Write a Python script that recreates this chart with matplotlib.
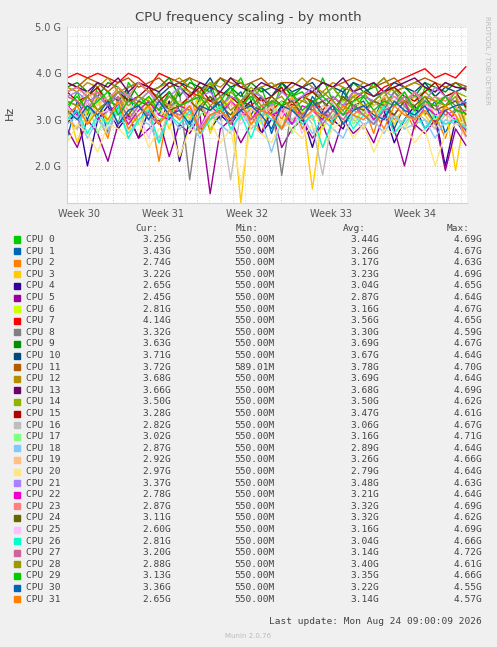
import numpy as np
import matplotlib
matplotlib.use("Agg")
import matplotlib.pyplot as plt

cpus = [f"CPU {i}" for i in range(32)]
colors = ["#00CC00","#0066B3","#FF8000","#FFCC00","#330099","#990099","#CCFF00","#FF0000",
          "#808080","#008F00","#00487D","#B35A00","#B38F00","#6B006B","#8FB300","#B30000",
          "#BEBEBE","#80FF80","#80C9FF","#FFC080","#FFE680","#AA80FF","#EE00CC","#FF8080",
          "#666600","#FFBFFF","#00FFCC","#CC6699","#999900","#00CC00","#0066B3","#FF8000"]
cur = ["3.25G","3.43G","2.74G","3.22G","2.65G","2.45G","2.81G","4.14G","3.32G","3.63G","3.71G","3.72G",
       "3.68G","3.66G","3.50G","3.28G","2.82G","3.02G","2.87G","2.92G","2.97G","3.37G","2.78G","2.87G",
       "3.11G","2.60G","2.81G","3.20G","2.88G","3.13G","3.36G","2.65G"]
mins = ["550.00M"]*11 + ["589.01M"] + ["550.00M"]*20
avg = ["3.44G","3.26G","3.17G","3.23G","3.04G","2.87G","3.16G","3.56G","3.30G","3.69G","3.67G","3.78G",
       "3.69G","3.68G","3.50G","3.47G","3.06G","3.16G","2.89G","3.26G","2.79G","3.48G","3.21G","3.32G",
       "3.32G","3.16G","3.04G","3.14G","3.40G","3.35G","3.22G","3.14G"]
maxs = ["4.69G","4.67G","4.63G","4.69G","4.65G","4.64G","4.67G","4.65G","4.59G","4.67G","4.64G","4.70G",
        "4.64G","4.69G","4.62G","4.61G","4.67G","4.71G","4.64G","4.66G","4.64G","4.63G","4.64G","4.69G",
        "4.62G","4.69G","4.66G","4.72G","4.61G","4.66G","4.55G","4.57G"]

# sampled values (GHz), 40 points per CPU across the month
series = [
 [3.2,3.6,3.1,3.7,3.4,2.9,3.8,3.5,3.3,3.6,3.0,3.7,3.9,3.5,3.8,3.2,3.6,3.9,3.4,3.7,3.1,3.8,3.5,3.6,3.3,3.9,3.4,3.7,3.2,3.5,3.8,3.3,3.6,3.4,3.0,3.7,3.5,3.3,3.6,3.25],
 [2.6,3.4,3.0,3.5,2.7,3.3,3.6,2.9,3.4,3.1,3.6,3.2,2.8,3.5,3.7,3.0,3.4,3.6,3.1,3.5,2.7,3.3,3.6,3.0,3.5,3.2,2.9,3.6,3.3,3.4,3.0,3.5,2.8,3.3,3.6,3.1,3.4,2.7,3.2,3.43],
 [3.0,2.8,3.4,3.1,2.6,3.5,3.2,2.9,3.3,2.1,3.4,3.0,3.6,2.8,3.2,3.5,2.9,3.3,3.1,2.7,3.4,3.0,3.5,2.8,3.2,3.0,3.4,2.9,3.1,3.3,2.7,3.5,3.0,3.2,2.8,3.4,3.1,2.6,3.3,2.74],
 [3.3,2.5,3.2,3.5,2.9,3.4,3.1,2.6,3.5,3.3,2.8,3.4,3.0,3.6,2.7,3.2,3.5,1.2,3.3,3.0,3.4,2.8,3.5,3.2,1.5,3.1,3.4,2.9,3.6,3.2,3.0,3.4,2.9,3.3,3.5,3.1,2.8,3.3,1.9,3.22],
 [2.9,3.2,2.0,3.0,3.3,2.8,3.1,2.6,3.2,2.9,3.4,2.1,3.0,3.3,2.8,3.1,2.9,3.2,3.4,2.7,3.0,3.3,2.9,3.1,2.4,3.2,3.0,2.8,3.3,3.1,2.9,3.2,2.5,3.0,3.3,2.8,3.1,2.0,3.0,2.65],
 [2.8,2.4,3.0,2.7,2.1,2.9,3.1,2.6,2.8,3.0,2.2,2.9,2.7,3.1,1.4,2.8,3.0,2.5,2.9,2.7,3.2,2.4,2.8,3.0,2.6,2.9,2.3,3.0,2.7,2.9,2.5,3.1,2.8,2.0,2.9,2.7,3.0,1.9,2.8,2.45],
 [3.1,3.3,2.9,3.4,3.0,3.2,2.7,3.4,3.1,2.9,3.3,3.2,3.0,3.4,2.8,3.2,3.5,3.0,3.3,2.9,3.2,3.4,3.0,3.1,3.3,2.8,3.2,3.4,3.0,3.2,2.9,3.3,3.1,3.4,2.9,3.2,3.0,3.3,3.1,2.81],
 [3.9,4.0,3.9,4.0,3.9,3.8,4.0,3.9,3.7,4.0,3.9,3.8,3.6,3.5,3.4,3.3,3.5,3.4,3.3,3.5,3.2,3.4,3.3,3.5,3.4,3.2,3.5,3.3,3.4,3.6,3.5,3.7,3.8,3.9,4.0,4.1,3.9,4.0,3.9,4.14],
 [3.3,3.0,3.5,3.2,3.4,2.9,3.5,3.3,3.1,3.4,3.2,3.6,1.7,3.3,3.5,3.1,3.4,3.2,3.6,3.0,3.4,1.8,3.3,3.5,3.2,3.4,3.0,3.5,3.3,3.1,3.4,3.2,3.6,3.3,3.0,3.4,3.2,3.5,3.3,3.32],
 [3.7,3.8,3.6,3.5,3.8,3.7,3.4,3.8,3.6,3.7,3.9,3.5,3.8,3.7,3.6,3.9,3.7,3.5,3.8,3.6,3.7,3.8,3.5,3.7,3.6,3.8,3.7,3.4,3.8,3.6,3.7,3.9,3.6,3.7,3.5,3.8,3.7,3.6,3.8,3.63],
 [3.6,3.7,3.5,3.8,3.6,3.4,3.7,3.8,3.6,3.5,3.7,3.8,3.7,3.6,3.9,3.5,3.7,3.8,3.6,3.7,3.5,3.8,3.6,3.7,3.8,3.5,3.7,3.6,3.8,3.7,3.5,3.6,3.8,3.7,3.6,3.8,3.5,3.7,3.6,3.71],
 [3.8,3.7,3.9,3.8,3.6,3.8,3.9,3.7,3.8,3.9,3.7,3.8,3.9,3.8,3.7,3.9,3.8,3.7,3.8,3.9,3.7,3.8,3.8,3.7,3.9,3.8,3.7,3.8,3.9,3.8,3.7,3.8,3.9,3.7,3.8,3.9,3.8,3.7,3.8,3.72],
 [3.7,3.6,3.8,3.7,3.9,3.6,3.7,3.8,3.6,3.7,3.8,3.9,3.7,3.6,3.8,3.7,3.9,3.8,3.6,3.7,3.8,3.6,3.7,3.9,3.7,3.6,3.8,3.7,3.6,3.8,3.7,3.9,3.6,3.7,3.8,3.7,3.6,3.8,3.7,3.68],
 [3.8,3.7,3.6,3.8,3.7,3.9,3.6,3.8,3.7,3.6,3.8,3.7,3.5,3.8,3.7,3.6,3.9,3.7,3.6,3.8,3.7,3.6,3.8,3.7,3.6,3.8,3.7,3.9,3.6,3.7,3.8,3.6,3.7,3.8,3.9,3.7,3.6,3.8,3.7,3.66],
 [3.5,3.4,3.6,3.5,3.3,3.7,3.5,3.4,3.6,3.5,3.3,3.7,3.6,3.4,3.8,3.5,3.6,3.4,3.7,3.5,3.3,3.6,3.5,3.4,3.6,3.5,3.7,3.4,3.5,3.6,3.3,3.5,3.7,3.4,3.5,3.6,3.4,3.5,3.6,3.50],
 [3.6,3.4,3.5,3.7,3.3,3.6,3.4,3.5,3.7,3.4,3.6,3.3,3.5,3.7,3.4,3.6,3.5,3.3,3.6,3.4,3.5,3.7,3.3,3.5,3.6,3.4,3.5,3.3,3.6,3.5,3.4,3.6,3.7,3.5,3.4,3.6,3.8,3.5,3.6,3.28],
 [3.1,2.8,3.3,3.0,2.7,3.2,2.9,3.3,3.0,2.6,3.2,3.1,2.9,3.3,3.0,3.1,1.7,3.2,2.9,3.1,3.3,2.8,3.0,3.2,2.9,1.8,3.1,3.3,3.0,2.8,3.2,3.0,3.1,2.9,3.2,3.0,2.8,3.1,3.0,2.82],
 [3.2,3.0,3.4,2.7,3.2,3.1,3.4,2.9,3.3,3.0,3.2,3.4,2.8,3.1,3.3,3.2,2.9,3.4,3.0,3.2,3.1,3.4,2.7,3.2,3.3,3.0,3.1,3.4,2.9,3.2,3.0,3.3,3.1,2.8,3.2,3.4,3.0,3.1,3.2,3.02],
 [2.9,3.1,2.6,3.0,2.8,3.2,2.7,3.0,2.9,2.5,3.1,2.8,3.0,2.6,3.1,2.9,2.7,3.2,2.8,3.0,2.3,3.0,2.9,3.1,2.7,3.0,2.8,2.6,3.1,2.9,3.0,2.7,3.1,2.8,2.9,3.0,2.6,3.0,2.9,2.87],
 [3.5,3.4,3.6,3.3,3.5,3.6,3.2,3.4,3.3,3.1,3.2,3.4,3.0,3.3,3.2,3.1,3.4,3.2,3.3,3.0,3.3,3.1,3.4,3.2,3.0,3.3,3.2,3.1,3.4,3.2,3.3,3.5,3.4,3.6,3.3,3.5,3.4,3.2,3.3,2.92],
 [2.5,2.9,2.7,2.3,2.9,2.8,2.6,3.0,2.4,2.8,2.9,2.2,2.8,2.7,3.0,2.5,2.8,1.6,2.9,2.7,2.5,3.0,2.8,2.6,2.9,2.4,2.8,3.0,2.6,2.9,2.3,2.8,2.7,2.9,2.5,2.8,2.0,2.7,2.9,2.97],
 [3.5,3.6,3.4,3.5,3.3,3.6,3.5,3.4,3.6,3.3,3.5,3.7,3.4,3.5,3.6,3.3,3.5,3.4,3.6,3.5,3.3,3.6,3.4,3.5,3.7,3.4,3.5,3.3,3.6,3.5,3.4,3.6,3.5,3.3,3.6,3.4,3.7,3.5,3.4,3.37],
 [3.3,3.1,3.4,3.0,3.2,3.3,2.9,3.2,3.4,3.1,3.0,3.3,3.2,2.8,3.3,3.1,3.4,3.2,3.0,3.3,3.1,3.2,2.9,3.3,3.2,3.0,3.4,3.1,3.2,3.3,3.0,3.2,3.1,3.4,2.9,3.3,3.1,3.2,3.0,2.78],
 [3.6,3.7,3.5,3.6,3.4,3.7,3.5,3.8,3.6,3.4,3.3,3.2,3.1,3.3,3.0,3.2,3.4,3.1,3.2,3.3,3.0,3.2,3.4,3.1,3.3,3.2,3.0,3.3,3.2,3.1,3.4,3.3,3.5,3.4,3.6,3.3,3.5,3.4,3.6,2.87],
 [3.4,3.3,3.5,3.2,3.4,3.3,3.1,3.4,3.3,3.5,3.2,3.3,3.4,3.2,3.5,3.3,3.1,3.4,3.3,3.2,3.5,3.3,3.4,3.1,3.3,3.4,3.2,3.5,3.3,3.2,3.4,3.3,3.1,3.4,3.3,3.5,3.2,3.3,3.4,3.11],
 [3.3,3.0,3.4,3.1,3.2,2.9,3.4,3.1,2.6,3.3,3.2,3.0,3.4,2.8,3.2,3.1,3.3,2.9,3.2,3.4,3.0,3.1,3.3,2.7,3.2,3.1,3.4,3.0,3.2,3.3,2.9,3.2,3.4,3.1,3.0,3.3,3.2,2.9,3.1,2.60],
 [3.0,3.2,2.7,3.1,2.9,3.3,2.6,3.0,3.2,2.5,3.1,2.9,3.2,2.7,3.0,3.3,2.8,3.1,2.6,3.2,3.0,2.8,3.3,2.9,3.1,2.4,3.0,3.2,2.8,3.1,2.9,3.3,2.7,3.0,3.2,2.8,3.1,2.9,3.0,2.81],
 [3.5,3.4,3.2,3.6,3.3,3.5,3.0,3.3,3.1,2.9,3.2,3.1,3.3,2.8,3.1,3.2,2.9,3.3,3.0,3.2,3.1,2.8,3.2,3.1,3.3,2.9,3.2,3.0,3.3,3.1,2.9,3.2,3.3,3.5,3.2,3.4,3.3,3.1,3.2,3.20],
 [3.4,3.3,3.5,3.2,3.4,3.6,3.3,3.5,3.4,3.2,3.5,3.3,3.4,3.6,3.3,3.5,3.2,3.4,3.6,3.3,3.4,3.5,3.2,3.4,3.3,3.6,3.4,3.2,3.5,3.3,3.4,3.6,3.3,3.4,3.2,3.5,3.4,3.3,3.5,2.88],
 [3.3,3.5,3.2,3.4,3.6,3.1,3.4,3.3,3.5,3.2,3.6,3.3,3.4,3.5,3.2,3.4,3.7,3.3,3.5,3.2,3.4,3.3,3.6,3.2,3.4,3.5,3.3,3.1,3.4,3.5,3.2,3.4,3.3,3.6,3.2,3.4,3.3,3.5,3.2,3.13],
 [3.2,3.0,3.3,3.1,3.4,2.9,3.2,3.3,3.0,3.4,3.1,3.2,2.9,3.3,3.2,3.4,3.0,3.2,3.3,3.1,2.8,3.3,3.2,3.0,3.4,3.1,3.3,2.9,3.2,3.3,3.1,3.0,3.4,3.2,3.1,3.3,2.9,3.2,3.3,3.36],
 [3.1,3.3,2.9,3.2,3.0,3.4,2.8,3.1,3.3,2.9,3.2,3.0,3.3,2.7,3.1,3.2,3.0,3.4,2.9,3.2,3.1,2.8,3.3,3.0,3.2,3.1,2.9,3.3,3.1,3.0,3.2,2.8,3.3,3.1,3.0,3.2,2.9,3.3,3.1,2.65],
]

W, H = 497, 647
fig = plt.figure(figsize=(W/100, H/100), dpi=100, facecolor="#F0F0F0")
ax = fig.add_axes([67/W, 1-203/H, 400/W, 176/H], facecolor="white")
x = np.linspace(0, 33.2, len(series[0]))
for s, c in zip(series, colors):
    ax.plot(x, s, color=c, lw=1.0)

ax.set_xlim(0, 33.3)
ax.set_ylim(1.2, 5.0)
for v in np.arange(1.2, 5.01, 0.2):
    major = abs(v - round(v)) < 1e-6
    ax.axhline(v, color="#E0A0A0" if major else "#C8C8C8", lw=0.6, ls=(0, (1, 2)), zorder=0)
for d in np.arange(0.8, 33.3, 1.0):
    major = abs(((d - 3.8) / 7) - round((d - 3.8) / 7)) < 1e-6
    ax.axvline(d, color="#E0A0A0" if major else "#C8C8C8", lw=0.6, ls=(0, (1, 2)), zorder=0)
ax.set_yticks([2, 3, 4, 5])
ax.set_yticklabels(["2.0 G", "3.0 G", "4.0 G", "5.0 G"])
ax.set_xticks([1, 8, 15, 22, 29])
ax.set_xticklabels(["Week 30", "Week 31", "Week 32", "Week 33", "Week 34"])
ax.tick_params(length=0, labelsize=7, colors="#555555", pad=4)
for sp in ax.spines.values():
    sp.set_visible(False)
ax.plot([0, 0], [0, 1], transform=ax.transAxes, color="#C8D0F0", lw=0.8, clip_on=False)
ax.plot([0, 1], [0, 0], transform=ax.transAxes, color="#C8D0F0", lw=0.8, clip_on=False)

fig.text(248/W, 1-18/H, "CPU frequency scaling - by month", ha="center", va="center", fontsize=9.5, color="#444444")
fig.text(10/W, 1-113/H, "Hz", rotation=90, ha="center", va="center", fontsize=8, color="#444444")
fig.text(487/W, 1-60/H, "RRDTOOL / TOBI OETIKER", rotation=270, ha="center", va="center", fontsize=5, color="#BBBBBB")

mono = "DejaVu Sans Mono"
fs = 6.8
tc = "#444444"
y0 = 228
for lbl, xr in [("Cur:", 158), ("Min:", 259), ("Avg:", 366), ("Max:", 470)]:
    fig.text(xr/W, 1-y0/H, lbl, ha="right", va="center", fontsize=fs, family=mono, color=tc)
dy = 11.6
for i in range(32):
    yy = 1 - (239.5 + i*dy)/H
    fig.patches.append(plt.Rectangle((14/W, yy - 3/H), 6/W, 6/H, transform=fig.transFigure, color=colors[i]))
    fig.text(26/W, yy, cpus[i], ha="left", va="center", fontsize=fs, family=mono, color=tc)
    for val, xr in [(cur[i], 171), (mins[i], 275), (avg[i], 379), (maxs[i], 482)]:
        fig.text(xr/W, yy, val, ha="right", va="center", fontsize=fs, family=mono, color=tc)
fig.text(482/W, 1-622/H, "Last update: Mon Aug 24 09:00:09 2026", ha="right", va="center", fontsize=fs, family=mono, color=tc)
fig.text(248/W, 1-636/H, "Munin 2.0.76", ha="center", va="center", fontsize=5, color="#BBBBBB")

fig.savefig("out.png", dpi=100, facecolor=fig.get_facecolor())
